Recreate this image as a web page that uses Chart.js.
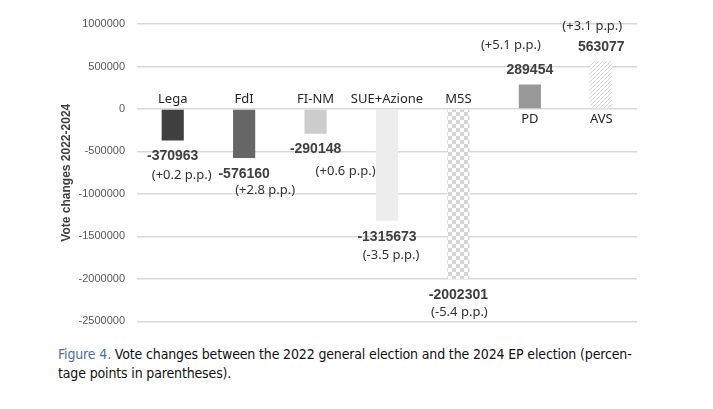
<!DOCTYPE html>
<html lang="en">
<head>
	<meta charset="UTF-8">
	<title>Vote changes 2022-2024</title>
	<script src="https://cdn.jsdelivr.net/npm/chart.js"></script>
	<style>
		body { margin: 0; background: #fff; }
		#wrap { position: relative; width: 713px; height: 340px; }
		#caption {
			position: absolute; left: 58px; top: 345px; width: 640px;
			font-family: "Liberation Sans Narrow", "DejaVu Sans Condensed", sans-serif;
			font-size: 14px; line-height: 19px; letter-spacing: -0.15px; color: #111;
		}
		#caption b { color: #4f6fa8; font-weight: normal; }
	</style>
</head>
<body>
	<div id="wrap"><canvas id="myChart"></canvas></div>
	<div id="caption"><b>Figure 4.</b> Vote changes between the 2022 general election and the 2024 EP election (percen-<br>tage points in parentheses).</div>

	<script>
		// data
		const parties = ['Lega', 'FdI', 'FI-NM', 'SUE+Azione', 'M5S', 'PD', 'AVS'];
		const voteChanges = [-370963, -576160, -290148, -1315673, -2002301, 289454, 563077];
		const ppChanges = ['+0.2', '+2.8', '+0.6', '-3.5', '-5.4', '+5.1', '+3.1'];

		// hand placement of the p.p. labels (relative to the value label), as in the original
		const ppNudge = [[9, 19], [21, 16], [30, 22], [4, 19], [1, 17], [-19, -25], [-9, -21]];

		function checkerPattern() {
			const c = document.createElement('canvas');
			c.width = 8; c.height = 8;
			const g = c.getContext('2d');
			g.fillStyle = '#ffffff'; g.fillRect(0, 0, 8, 8);
			g.fillStyle = '#d4d4d4';
			g.fillRect(0, 0, 4, 4); g.fillRect(4, 4, 4, 4);
			return g.createPattern(c, 'repeat');
		}

		function hatchPattern() {
			const c = document.createElement('canvas');
			c.width = 4; c.height = 4;
			const g = c.getContext('2d');
			g.fillStyle = '#ffffff'; g.fillRect(0, 0, 4, 4);
			g.strokeStyle = '#d8d8d8'; g.lineWidth = 1;
			g.beginPath();
			g.moveTo(0, 4); g.lineTo(4, 0);
			g.moveTo(-1, 1); g.lineTo(1, -1);
			g.moveTo(3, 5); g.lineTo(5, 3);
			g.stroke();
			return g.createPattern(c, 'repeat');
		}

		const barColors = ['#404040', '#666666', '#cccccc', '#ededed', checkerPattern(), '#999999', hatchPattern()];

		const labelPlugin = {
			id: 'barLabels',
			afterDatasetsDraw(chart) {
				const ctx = chart.ctx;
				const meta = chart.getDatasetMeta(0);
				const zeroY = chart.scales.y.getPixelForValue(0);
				ctx.save();
				ctx.textAlign = 'center';
				ctx.textBaseline = 'middle';
				meta.data.forEach((bar, i) => {
					const v = voteChanges[i];
					const neg = v < 0;
					// party name on the other side of the zero line
					ctx.font = '13px "Noto Sans"';
					ctx.fillStyle = '#262626';
					ctx.fillText(parties[i], bar.x, neg ? zeroY - 10 : zeroY + 10);
					// value
					const vy = neg ? bar.y + 16 : bar.y - 14;
					ctx.font = 'bold 14px "Liberation Sans"';
					ctx.fillStyle = '#404040';
					ctx.fillText(String(v), bar.x, vy);
					// percentage points
					ctx.font = '13px "Noto Sans"';
					ctx.fillStyle = '#333333';
					ctx.fillText('(' + ppChanges[i] + ' p.p.)', bar.x + ppNudge[i][0], vy + ppNudge[i][1]);
				});
				ctx.restore();
			}
		};

		const canvas = document.getElementById('myChart');
		const ctx = canvas.getContext('2d');

		const myChart = new Chart(ctx, {
			type: 'bar',
			data: {
				labels: parties,
				datasets: [{
					data: voteChanges,
					backgroundColor: barColors,
					borderWidth: 0,
					barPercentage: 0.31,
					categoryPercentage: 1
				}]
			},
			options: {
				responsive: true,
				maintainAspectRatio: false,
				animation: false,
				layout: { padding: { left: 55, right: 76, top: 24, bottom: 17 } },
				plugins: { legend: { display: false }, tooltip: { enabled: false } },
				scales: {
					x: { display: false },
					y: {
						min: -2500000,
						max: 1000000,
						ticks: {
							stepSize: 500000,
							padding: 12,
							color: '#595959',
							font: { family: '"Liberation Sans"', size: 11 },
							callback: v => String(v)
						},
						grid: { color: '#d9d9d9', lineWidth: 1.5, drawTicks: false },
						border: { display: false },
						title: {
							display: true,
							text: 'Vote changes 2022-2024',
							color: '#404040',
							font: { family: '"Liberation Sans"', size: 12, weight: 'bold' },
							padding: { top: 4, bottom: 4 }
						},
						afterFit(scale) { scale.width = 82; }
					}
				}
			},
			plugins: [labelPlugin]
		});
	</script>
</body>
</html>
